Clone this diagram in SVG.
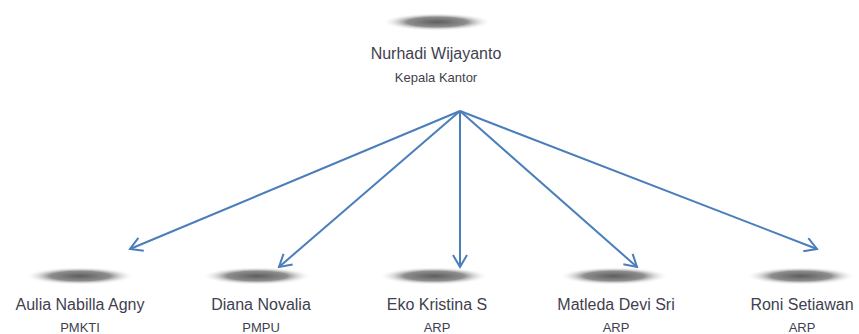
<svg xmlns="http://www.w3.org/2000/svg" width="859" height="334" viewBox="0 0 859 334">
<defs>
<radialGradient id="sh" cx="0.5" cy="0.5" r="0.5">
<stop offset="0" stop-color="#5e5e5e"/>
<stop offset="0.55" stop-color="#8e8e8e"/>
<stop offset="1" stop-color="#ffffff" stop-opacity="0"/>
</radialGradient>
<marker id="ah" markerWidth="16" markerHeight="16" refX="14" refY="8" orient="auto" markerUnits="userSpaceOnUse">
<path d="M2,1 L14,8 L2,15" fill="none" stroke="#4a7ebb" stroke-width="2"/>
</marker>
<style>
.sh{fill:url(#sh)}
.nm{font-family:"Liberation Sans",Arial,sans-serif;font-size:16px;fill:#3f3f4f;text-anchor:middle}
.rl{font-family:"Liberation Sans",Arial,sans-serif;font-size:13px;fill:#3f3f4f;text-anchor:middle}
.cn{stroke:#4a7ebb;stroke-width:2;fill:none;marker-end:url(#ah)}
</style>
</defs>
<rect width="859" height="334" fill="#ffffff"/>
<g id="connectors">
<line class="cn" x1="460" y1="111" x2="130" y2="249"/>
<line class="cn" x1="460" y1="111" x2="279" y2="267"/>
<line class="cn" x1="460" y1="111" x2="460" y2="267"/>
<line class="cn" x1="460" y1="111" x2="637" y2="267"/>
<line class="cn" x1="460" y1="111" x2="817" y2="249"/>
</g>
<g id="n-nurhadi">
<ellipse class="sh" cx="437" cy="22" rx="55" ry="9"/>
<text class="nm" x="436" y="59">Nurhadi Wijayanto</text>
<text class="rl" x="436" y="82">Kepala Kantor</text>
</g>
<g id="n-aulia">
<ellipse class="sh" cx="80" cy="276" rx="55" ry="9"/>
<text class="nm" x="80" y="310">Aulia Nabilla Agny</text>
<text class="rl" x="80" y="332">PMKTI</text>
</g>
<g id="n-diana">
<ellipse class="sh" cx="257" cy="276" rx="55" ry="9"/>
<text class="nm" x="261" y="310">Diana Novalia</text>
<text class="rl" x="261" y="332">PMPU</text>
</g>
<g id="n-eko">
<ellipse class="sh" cx="434" cy="276" rx="55" ry="9"/>
<text class="nm" x="437" y="310">Eko Kristina S</text>
<text class="rl" x="437" y="332">ARP</text>
</g>
<g id="n-matleda">
<ellipse class="sh" cx="614" cy="276" rx="55" ry="9"/>
<text class="nm" x="616" y="310">Matleda Devi Sri</text>
<text class="rl" x="616" y="332">ARP</text>
</g>
<g id="n-roni">
<ellipse class="sh" cx="801" cy="276" rx="55" ry="9"/>
<text class="nm" x="802" y="310">Roni Setiawan</text>
<text class="rl" x="802" y="332">ARP</text>
</g>
</svg>
